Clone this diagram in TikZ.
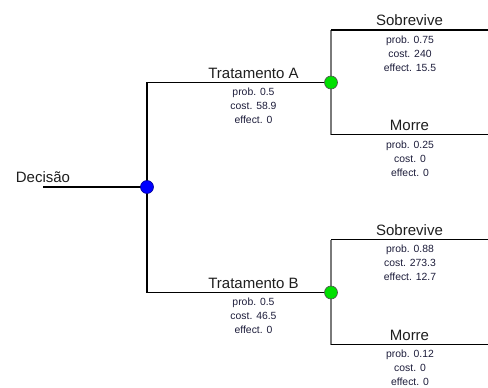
\documentclass[tikz,border=0pt]{standalone}
\usepackage{fontspec}
\setmainfont{Liberation Sans}
\usetikzlibrary{backgrounds}
\definecolor{labelc}{HTML}{1E1E1E}
\definecolor{infoc}{HTML}{1C1C3A}
\definecolor{stemc}{HTML}{7A7A7A}
\definecolor{decfill}{HTML}{0000FF}
\definecolor{chfill}{HTML}{00E000}
\begin{document}
\begin{tikzpicture}[x=1pt,y=-1pt,
  branch/.style={line width=1.2pt,black},
  stem/.style={line width=1.8pt,stemc},
  decnode/.style={circle,fill=decfill,draw=decfill!60!black,line width=0.6pt,minimum size=13pt,inner sep=0pt},
  chnode/.style={circle,fill=chfill,draw=black!70,line width=0.6pt,minimum size=13pt,inner sep=0pt},
  lbl/.style={anchor=base,inner sep=0pt,text=labelc,font=\fontsize{15}{18}\selectfont},
  info/.style={anchor=north,inner sep=0pt,align=center,text=infoc,font=\fontsize{10.4}{14}\selectfont}]
  \useasboundingbox (0,0) rectangle (488,388);

  % tree points
  \coordinate (root) at (43,187);
  \node[decnode] (dec) at (147,187) {};
  \node[chnode] (chA) at (331,82.5) {};
  \node[chnode] (chB) at (331,292.5) {};
  \coordinate (endA1) at (488,30);
  \coordinate (endA2) at (488,134.5);
  \coordinate (endB1) at (488,239.5);
  \coordinate (endB2) at (488,344.5);

  % connectors, kept behind the circles
  \begin{pgfonlayer}{background}
    \draw[branch] (root) -- (dec.center);
    \draw[branch] (dec.center) |- (chA.center);
    \draw[branch] (dec.center) |- (chB.center);
    \draw[stem] (chA.center |- endA1) -- (chA.center |- endA2);
    \draw[stem] (chB.center |- endB1) -- (chB.center |- endB2);
    \draw[branch] (chA.center |- endA1) -- (endA1);
    \draw[branch] (chA.center |- endA2) -- (endA2);
    \draw[branch] (chB.center |- endB1) -- (endB1);
    \draw[branch] (chB.center |- endB2) -- (endB2);
  \end{pgfonlayer}

  % decision
  \node[lbl] (decl) at (43,182.5) {Decisão};

  % treatment branches
  \node[lbl] (tAl) at (253.5,78) {Tratamento A};
  \node[info] (tAi) at (253.5,88) {prob. 0.5\\cost. 58.9\\effect. 0};
  \node[lbl] (tBl) at (253.5,288) {Tratamento B};
  \node[info] (tBi) at (253.5,298) {prob. 0.5\\cost. 46.5\\effect. 0};

  % outcomes of treatment A
  \node[lbl] (a1l) at (409.5,25.5) {Sobrevive};
  \node[info] (a1i) at (410,35.5) {prob. 0.75\\cost. 240\\effect. 15.5};
  \node[lbl] (a2l) at (409.5,130.5) {Morre};
  \node[info] (a2i) at (410,140.5) {prob. 0.25\\cost. 0\\effect. 0};

  % outcomes of treatment B
  \node[lbl] (b1l) at (409.5,235) {Sobrevive};
  \node[info] (b1i) at (410,245) {prob. 0.88\\cost. 273.3\\effect. 12.7};
  \node[lbl] (b2l) at (409.5,340) {Morre};
  \node[info] (b2i) at (410,350) {prob. 0.12\\cost. 0\\effect. 0};
\end{tikzpicture}
\end{document}
